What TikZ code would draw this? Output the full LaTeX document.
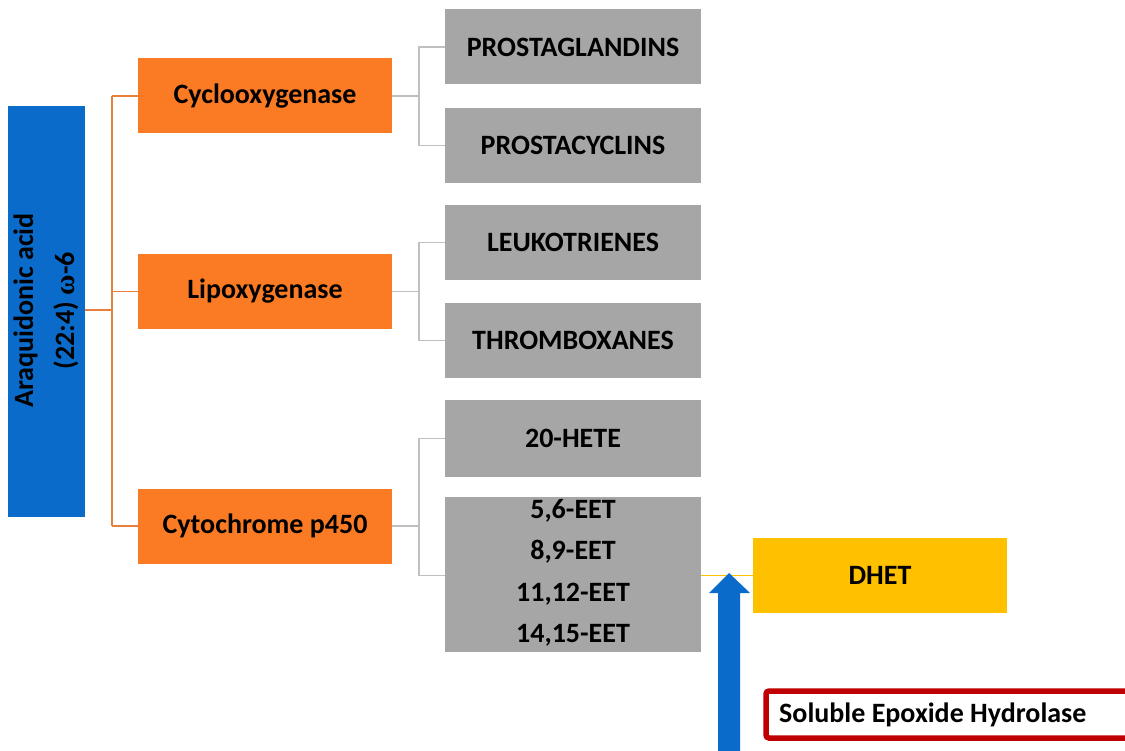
\documentclass[tikz,border=0pt]{standalone}
\usepackage{fontspec}
\setmainfont{Carlito}
\newfontfamily\greekfont{Liberation Serif}
\definecolor{acidblue}{HTML}{0B6BCB}
\definecolor{enzorange}{HTML}{FB7A24}
\definecolor{prodgray}{HTML}{A6A6A6}
\definecolor{linegray}{HTML}{C0C0C0}
\definecolor{lineorange}{HTML}{E8803C}
\definecolor{dhetyellow}{HTML}{FFC000}
\definecolor{sehred}{HTML}{C00000}
\begin{document}
\begin{tikzpicture}[x=1pt,y=-1pt,
  box/.style={rectangle,inner sep=0pt,font=\bfseries\fontsize{28}{32}\selectfont,text=black},
  enzbox/.style={box,fill=enzorange,minimum width=254pt,minimum height=75pt},
  prodbox/.style={box,fill=prodgray,minimum width=256pt,minimum height=75pt},
  orangeline/.style={draw=lineorange,line width=1.2pt},
  grayline/.style={draw=linegray,line width=1.6pt}]
\useasboundingbox (0,0) rectangle (1125,751);
% main acid box
\node[box,fill=acidblue,minimum width=77pt,minimum height=411pt] (acid) at (46.5,311.5) {};
\node[box,rotate=90,align=center,font=\bfseries\fontsize{28}{41}\selectfont] (acidtxt) at (46,310.5)
  {Araquidonic acid\\(22:4) {\greekfont\bfseries ω}-6};
% enzymes
\node[enzbox] (cox) at (265,96) {Cyclooxygenase};
\node[enzbox] (lox) at (265,291.5) {Lipoxygenase};
\node[enzbox] (cyp) at (265,526) {Cytochrome p450};
% products
\node[prodbox] (pg) at (573,47) {PROSTAGLANDINS};
\node[prodbox] (pc) at (573,145.5) {PROSTACYCLINS};
\node[prodbox] (lt) at (573,242.5) {LEUKOTRIENES};
\node[prodbox] (tx) at (573,340.5) {THROMBOXANES};
\node[prodbox,minimum height=77pt] (hete) at (573,438.5) {20-HETE};
\node[prodbox,minimum height=155pt] (eet) at (573,574.5) {};
\node[box,align=center,font=\bfseries\fontsize{28}{41.5}\selectfont] (eettxt) at (573,573)
  {5,6-EET\\8,9-EET\\11,12-EET\\14,15-EET};
\node[box,fill=dhetyellow,minimum width=254pt,minimum height=75pt] (dhet) at (880,575.5) {DHET};
% connectors from acid
\coordinate (ajoin) at (112,310);
\draw[orangeline] (acid.east |- ajoin) -- (ajoin);
\draw[orangeline] (ajoin |- cox.west) -- (ajoin |- cyp.west);
\draw[orangeline] (ajoin |- cox.west) -- (cox.west);
\draw[orangeline] (ajoin |- lox.west) -- (lox.west);
\draw[orangeline] (ajoin |- cyp.west) -- (cyp.west);
% connectors to products
\coordinate (cj) at (419,96);
\draw[grayline] (cox.east) -- (cj);
\draw[grayline] (pg.west) -| (cj) |- (pc.west);
\coordinate (lj) at (419,291.5);
\draw[grayline] (lox.east) -- (lj);
\draw[grayline] (lt.west) -| (lj) |- (tx.west);
\coordinate (pj) at (419,526);
\draw[grayline] (cyp.east) -- (pj);
\draw[grayline] (hete.west) -| (pj) |- (eet.west |- dhet.west);
% EET to DHET
\draw[draw=dhetyellow,line width=1.2pt] (eet.east |- dhet.west) -- (dhet.west);
% blue arrow
\coordinate (arrowtip) at (729,573);
\fill[acidblue] (718,760) -- (718,593) -- (709,593) -- (arrowtip) -- (750,593) -- (740,593) -- (740,760) -- cycle;
% soluble epoxide hydrolase
\node[anchor=west,font=\bfseries\fontsize{28}{32}\selectfont,inner sep=0pt] (seh) at (779,715) {Soluble Epoxide Hydrolase};
\draw[draw=sehred,line width=5.5pt,rounded corners=3pt] (1130,691) -- (766,691) -- (766,738) -- (1130,738);
\end{tikzpicture}
\end{document}
